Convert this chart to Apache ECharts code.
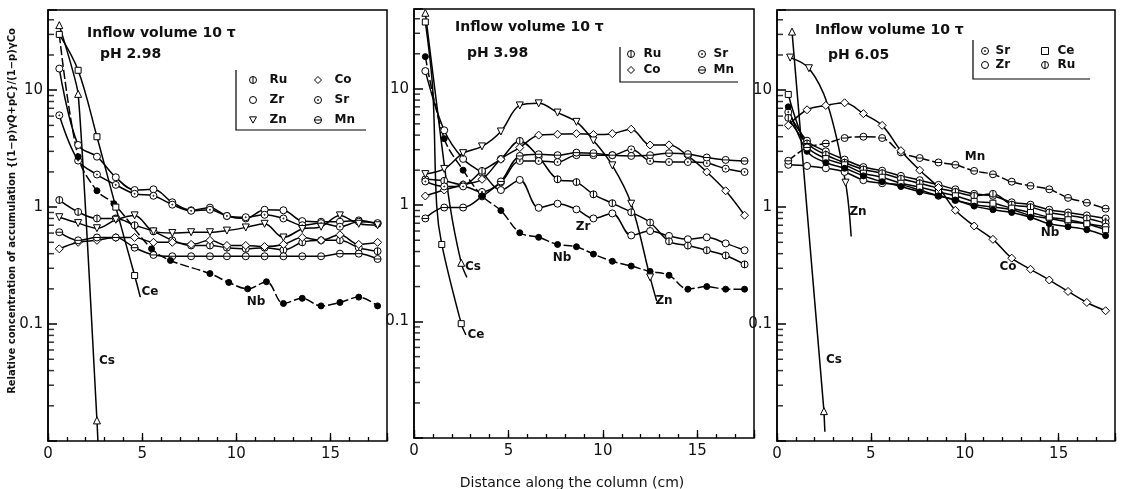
<!DOCTYPE html>
<html><head><meta charset="utf-8">
<script src="https://cdn.jsdelivr.net/npm/echarts@6/dist/echarts.min.js"></script>
<style>html,body{margin:0;padding:0;background:#fff}#c{width:1125px;height:489px}</style>
</head><body><div id="c"></div>
<script>
// ---------- shared x positions (cm) ----------
const X = [0.6,1.6,2.6,3.6,4.6,5.6,6.6,7.6,8.6,9.5,10.5,11.5,12.5,13.5,14.5,15.5,16.5,17.5];
const xTickLabels = ['0','5','10','15'];
const yTickLabels = ['10','1','0.1'];
const yMinorTicks = [0.02,0.03,0.04,0.05,0.06,0.07,0.08,0.09,0.2,0.3,0.4,0.5,0.6,0.7,0.8,0.9,2,3,4,5,6,7,8,9,20,30,40];

// ---------- Panel 1 : pH 2.98 ----------
const p1Zr = [15.3,3.4,2.7,1.8,1.4,1.42,1.1,0.94,0.99,0.84,0.8,0.95,0.94,0.76,0.75,0.75,0.77,0.72];
const p1Sr = [6.1,2.5,1.9,1.55,1.3,1.25,1.05,0.93,0.95,0.84,0.82,0.86,0.8,0.7,0.73,0.68,0.75,0.73];
const p1Ru = [1.15,0.91,0.8,0.8,0.7,0.62,0.52,0.47,0.47,0.45,0.44,0.45,0.43,0.5,0.52,0.52,0.45,0.42];
const p1Zn = [0.82,0.73,0.66,0.78,0.85,0.62,0.6,0.61,0.61,0.63,0.67,0.72,0.55,0.65,0.68,0.85,0.72,0.7];
const p1Co = [0.44,0.5,0.52,0.55,0.55,0.5,0.5,0.48,0.52,0.47,0.47,0.46,0.48,0.55,0.52,0.58,0.48,0.5];
const p1Mn = [0.61,0.52,0.55,0.55,0.45,0.39,0.38,0.38,0.38,0.38,0.38,0.38,0.38,0.38,0.38,0.4,0.4,0.36];
const p1NbX = [0.6,1.6,2.6,3.5,5.5,6.5,8.6,9.6,10.6,11.6,12.5,13.5,14.5,15.5,16.5,17.5];
const p1Nb  = [30,2.7,1.38,1.07,0.44,0.35,0.27,0.227,0.2,0.23,0.15,0.166,0.143,0.153,0.17,0.143];
const p1CsX = [0.6,1.6,2.6,2.65];
const p1Cs  = [36,9.3,0.015,0.01];
const p1CsM = [1,1,1,0];
const p1CeX = [0.6,1.6,2.6,3.6,4.6,4.9];
const p1Ce  = [30,14.8,4.0,1.0,0.26,0.17];
const p1CeM = [1,1,1,1,1,0];

// ---------- Panel 2 : pH 3.98 ----------
const p2Zr = [14.2,4.4,2.5,1.9,1.35,1.65,0.95,1.03,0.92,0.77,0.85,0.55,0.6,0.545,0.51,0.53,0.47,0.41];
const p2Ru = [1.67,1.62,1.5,1.97,2.5,3.57,2.6,1.67,1.58,1.24,1.04,0.87,0.71,0.49,0.45,0.41,0.37,0.31];
const p2Co = [1.2,1.35,1.5,1.67,2.48,3.13,4.0,4.07,4.12,4.05,4.12,4.5,3.29,3.3,2.65,1.93,1.33,0.82];
const p2Sr = [1.6,1.45,1.45,1.3,1.57,2.4,2.4,2.35,2.69,2.69,2.69,3.02,2.4,2.35,2.35,2.3,2.06,1.93];
const p2Mn = [0.77,0.955,0.955,1.19,1.6,2.65,2.74,2.69,2.83,2.8,2.69,2.65,2.69,2.8,2.75,2.57,2.45,2.4];
const p2Nb = [18.9,3.73,2.0,1.2,0.9,0.58,0.53,0.46,0.44,0.38,0.33,0.30,0.27,0.25,0.19,0.2,0.19,0.19];
const p2ZnX = [0.6,1.6,2.6,3.6,4.6,5.6,6.6,7.6,8.6,9.5,10.5,11.5,12.5,12.85];
const p2Zn  = [1.85,2.05,2.8,3.2,4.3,7.2,7.5,6.25,5.2,3.6,2.2,1.03,0.24,0.15];
const p2ZnM = [1,1,1,1,1,1,1,1,1,1,1,1,1,0];
const p2CsX = [0.6,1.1,1.9,2.5,2.8];
const p2Cs  = [45,10,1,0.32,0.24];
const p2CsM = [1,0,0,1,0];
const p2CeX = [0.6,0.99,1.2,1.47,2.5,2.75];
const p2Ce  = [37.5,10,1,0.46,0.096,0.077];
const p2CeM = [1,0,0,1,1,0];

// ---------- Panel 3 : pH 6.05 ----------
const p3Sr = [6.5,3.7,3.0,2.55,2.2,2.05,1.85,1.7,1.55,1.42,1.3,1.25,1.1,1.05,0.95,0.9,0.85,0.8];
const p3Ru = [5.8,3.5,2.8,2.4,2.1,1.95,1.75,1.6,1.45,1.35,1.25,1.3,1.05,1.0,0.9,0.85,0.8,0.73];
const p3Zr = [2.3,2.25,2.15,2.0,1.7,1.6,1.55,1.4,1.25,1.15,1.05,1.0,0.95,0.85,0.8,0.75,0.72,0.68];
const p3Ce = [9.2,3.3,2.6,2.3,1.95,1.8,1.6,1.48,1.35,1.25,1.12,1.08,0.98,0.9,0.82,0.78,0.72,0.64];
const p3Nb = [7.2,3.0,2.4,2.15,1.85,1.65,1.5,1.35,1.25,1.15,1.02,0.95,0.9,0.82,0.72,0.68,0.64,0.57];
const p3Mn = [2.49,3.24,3.5,3.9,4.0,3.9,2.94,2.63,2.41,2.3,2.04,1.91,1.65,1.52,1.42,1.2,1.09,0.97];
const p3Co = [5.0,6.8,7.4,7.8,6.3,5.0,3.04,2.07,1.47,0.94,0.69,0.53,0.366,0.294,0.238,0.19,0.153,0.13];
const p3ZnX = [0.7,1.7,2.7,3.65,3.95];
const p3Zn  = [19,15.4,7.5,1.62,0.56];
const p3ZnM = [1,1,0,1,0];
const p3CsX = [0.8,2.5,2.55];
const p3Cs  = [31.7,0.018,0.012];
const p3CsM = [1,1,0];

// ---------- symbols ----------
const SYM = {
  Ru: 'path://M0,-10A10,10,0,1,1,0,10A10,10,0,1,1,0,-10ZM0,-10L0,10',
  Mn: 'path://M0,-10A10,10,0,1,1,0,10A10,10,0,1,1,0,-10ZM-10,0L10,0',
  Sr: 'path://M0,-10A10,10,0,1,1,0,10A10,10,0,1,1,0,-10ZM0,-1.5A1.5,1.5,0,1,1,0,1.5A1.5,1.5,0,1,1,0,-1.5Z',
  Zr: 'path://M0,-10A10,10,0,1,1,0,10A10,10,0,1,1,0,-10Z',
  Zn: 'path://M-10,-8L10,-8L0,10Z',
  Cs: 'path://M-10,8L10,8L0,-10Z',
  Co: 'path://M0,-10L10,0L0,10L-10,0Z',
  Ce: 'path://M-10,-10L10,-10L10,10L-10,10Z',
  Nb: 'circle'
};
const SIZE = {Ru:7,Mn:7,Sr:7,Zr:7,Zn:7,Cs:7,Co:8,Ce:6,Nb:6};

const FONT = 'DejaVu Sans';
const LINE = {color: '#000', width: 1.5};
const DASH = {color: '#000', width: 1.5, type: [9, 3]};
function mk(p, name, xs, ys, marks, extra) {
  const data = xs.map((x, i) => {
    const d = {value: [x, ys[i]]};
    if (marks && !marks[i]) d.symbol = 'none';
    return d;
  });
  return Object.assign({
    type: 'line', name, xAxisIndex: 2 * p, yAxisIndex: p, data,
    symbol: SYM[name], symbolSize: SIZE[name], smooth: 0.35,
    lineStyle: LINE,
    itemStyle: {color: name === 'Nb' ? '#000' : '#fff', borderColor: '#000', borderWidth: 1},
    emphasis: {disabled: true}, animation: false, z: 3
  }, extra || {});
}

const series = [
  mk(0,'Zr',X,p1Zr), mk(0,'Sr',X,p1Sr), mk(0,'Ru',X,p1Ru), mk(0,'Zn',X,p1Zn),
  mk(0,'Co',X,p1Co), mk(0,'Mn',X,p1Mn), mk(0,'Nb',p1NbX,p1Nb,null,{lineStyle: DASH}),
  mk(0,'Cs',p1CsX,p1Cs,p1CsM,{smooth:0.15}), mk(0,'Ce',p1CeX,p1Ce,p1CeM),
  mk(1,'Zr',X,p2Zr), mk(1,'Ru',X,p2Ru), mk(1,'Co',X,p2Co), mk(1,'Sr',X,p2Sr),
  mk(1,'Mn',X,p2Mn), mk(1,'Nb',X,p2Nb,null,{lineStyle: DASH}),
  mk(1,'Zn',p2ZnX,p2Zn,p2ZnM), mk(1,'Cs',p2CsX,p2Cs,p2CsM), mk(1,'Ce',p2CeX,p2Ce,p2CeM),
  mk(2,'Sr',X,p3Sr), mk(2,'Ru',X,p3Ru), mk(2,'Zr',X,p3Zr), mk(2,'Ce',X,p3Ce),
  mk(2,'Nb',X,p3Nb), mk(2,'Mn',X,p3Mn,null,{lineStyle: DASH}),
  mk(2,'Co',X,p3Co), mk(2,'Zn',p3ZnX,p3Zn,p3ZnM), mk(2,'Cs',p3CsX,p3Cs,p3CsM,{smooth:0})
];
// minor log ticks of each y axis, placed by the axis scale at the left edge (x = 0)
for (let p = 0; p < 3; p++) {
  series.push({
    type: 'scatter', name: 'yMinorTick' + p, xAxisIndex: 2 * p, yAxisIndex: p,
    data: yMinorTicks.map(v => [0, v]), symbol: 'rect', symbolSize: [6, 1.5], symbolOffset: [3, 0],
    itemStyle: {color: '#000'}, clip: false, silent: true, animation: false, z: 6
  });
}

const grids = [
  {left: 48, top: 10, width: 339, height: 431},
  {left: 414, top: 9, width: 340, height: 429},
  {left: 777, top: 10, width: 338, height: 431}
].map(g => Object.assign(g, {show: true, borderColor: '#000', borderWidth: 1.5}));

const xAxes = [], yAxes = [];
for (let p = 0; p < 3; p++) {
  xAxes.push({
    type: 'value', gridIndex: p, min: 0, max: 18, interval: 5, position: 'bottom', offset: 0,
    axisLine: {show: false}, splitLine: {show: false},
    axisTick: {show: true, inside: true, length: 8, lineStyle: {color: '#000', width: 1.3}},
    axisLabel: {margin: 6, color: '#111', fontSize: 15, fontFamily: FONT,
      formatter: v => { const i = [0,5,10,15].indexOf(v); return i >= 0 ? xTickLabels[i] : ''; }}
  });
  xAxes.push({
    type: 'value', gridIndex: p, min: 0, max: 18, interval: 1, position: 'bottom', offset: 0,
    axisLine: {show: false}, splitLine: {show: false}, axisLabel: {show: false},
    axisTick: {show: true, inside: true, length: 4, lineStyle: {color: '#000', width: 1.3}}
  });
  yAxes.push({
    type: 'log', gridIndex: p, min: 0.01, max: 48.5, position: 'left', offset: 0,
    axisLine: {show: true, lineStyle: {color: '#000', width: 1.5}}, splitLine: {show: false},
    axisTick: {show: true, inside: true, length: 9, lineStyle: {color: '#000', width: 1.5}},
    axisLabel: {margin: 5, color: '#111', fontSize: 15, fontFamily: FONT,
      formatter: v => {
        if (Math.abs(v - 10) < 1e-6) return yTickLabels[0];
        if (Math.abs(v - 1) < 1e-6) return yTickLabels[1];
        if (Math.abs(v - 0.1) < 1e-7) return yTickLabels[2];
        return '';
      }}
  });
}

function legend(left, top, names, pad, gap) {
  return {
    left, top, orient: 'vertical', padding: 0, itemGap: gap, itemWidth: 7, itemHeight: 7,
    selectedMode: false, symbolKeepAspect: true,
    itemStyle: {color: '#fff', borderColor: '#000', borderWidth: 1},
    textStyle: {fontFamily: FONT, fontWeight: 'bold', fontSize: 12, color: '#111', lineHeight: 14, padding: [0, 0, 0, pad]},
    data: names.map(n => ({name: n, icon: SYM[n]}))
  };
}
const legends = [
  legend(249, 73, ['Ru','Zr','Zn'], 8, 6),
  legend(314, 73, ['Co','Sr','Mn'], 8, 6),
  legend(627, 47, ['Ru','Co'], 4, 2),
  legend(698, 47, ['Sr','Mn'], 3, 2),
  legend(981, 44, ['Sr','Zr'], 2, 0),
  legend(1041, 44, ['Ce','Ru'], 4, 0)
];

function txt(x, y, s, size, weight, align) {
  return {type: 'text', x, y, silent: true,
    style: {text: s, fill: '#111', font: (weight || 'normal') + ' ' + size + 'px "' + FONT + '"',
      textAlign: align || 'left', textVerticalAlign: 'middle'}};
}
const boxLine = pts => ({type: 'polyline', silent: true, shape: {points: pts}, style: {stroke: '#000', lineWidth: 1.2, fill: null}});

const graphic = [
  txt(87, 33, 'Inflow volume 10 τ', 14, 'bold'), txt(100, 54, 'pH 2.98', 14, 'bold'),
  txt(455, 27, 'Inflow volume 10 τ', 14, 'bold'), txt(467, 53, 'pH 3.98', 14, 'bold'),
  txt(815, 30, 'Inflow volume 10 τ', 14, 'bold'), txt(828, 55, 'pH 6.05', 14, 'bold'),
  boxLine([[236,70],[236,130],[366,130]]),
  boxLine([[620,47],[620,82],[738,82]]),
  boxLine([[973,40],[973,79],[1090,79]]),
  txt(150, 292, 'Ce', 12, 'bold', 'center'), txt(256, 302, 'Nb', 12, 'bold', 'center'), txt(107, 361, 'Cs', 12, 'bold', 'center'),
  txt(473, 267, 'Cs', 12, 'bold', 'center'), txt(476, 335, 'Ce', 12, 'bold', 'center'),
  txt(583, 227, 'Zr', 12, 'bold', 'center'), txt(562, 258, 'Nb', 12, 'bold', 'center'), txt(664, 301, 'Zn', 12, 'bold', 'center'),
  txt(975, 157, 'Mn', 12, 'bold', 'center'), txt(858, 212, 'Zn', 12, 'bold', 'center'), txt(1050, 233, 'Nb', 12, 'bold', 'center'),
  txt(1008, 267, 'Co', 12, 'bold', 'center'), txt(834, 360, 'Cs', 12, 'bold', 'center'),
  txt(572, 483, 'Distance along the column (cm)', 14, 'normal', 'center'),
  Object.assign(txt(12, 211, 'Relative concentration of accumulation {(1−p)γQ+pC}/(1−p)γCo', 10, 'bold', 'center'), {rotation: Math.PI / 2})
];

const chart = echarts.init(document.getElementById('c'), null, {renderer: 'canvas'});
chart.setOption({
  animation: false, backgroundColor: '#fff',
  grid: grids, xAxis: xAxes, yAxis: yAxes, legend: legends, series, graphic
});
</script></body></html>
